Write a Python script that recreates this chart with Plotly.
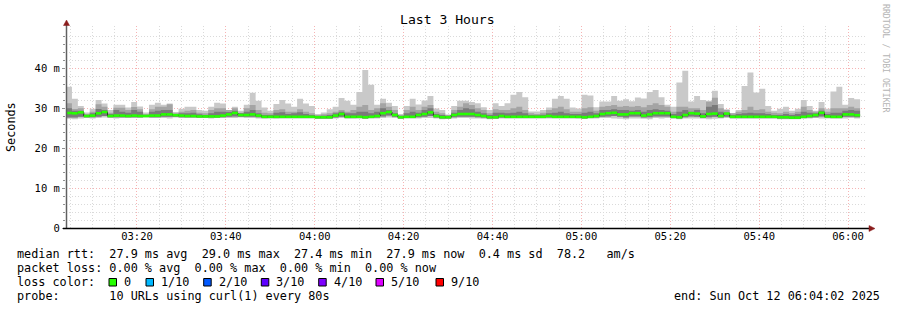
import plotly.graph_objects as go
import pandas as pd

# ---------------- data ----------------
start_time = "2025-10-12 03:04:02"
step_seconds = 80
window_hours = 3

rtt_max = [
    35.3, 32.3, 30.5, 28.9, 29.8, 32.0, 31.1, 29.5, 30.8, 30.8,
    30.1, 31.5, 30.4, 28.9, 30.8, 31.3, 30.8, 31.1, 29.0, 29.8,
    30.3, 30.3, 29.5, 29.3, 30.3, 31.3, 31.1, 29.5, 30.3, 29.3,
    30.8, 33.8, 31.8, 30.1, 29.3, 31.0, 32.0, 31.1, 30.3, 32.3,
    31.1, 30.5, 28.5, 28.9, 29.7, 30.3, 32.5, 31.8, 30.8, 34.0,
    39.5, 35.8, 30.8, 32.3, 31.3, 30.5, 28.5, 30.5, 32.3, 30.9,
    31.9, 33.0, 29.9, 29.5, 28.4, 30.5, 31.8, 31.8, 31.5, 31.2,
    30.2, 29.5, 31.2, 30.5, 31.2, 33.3, 34.0, 32.7, 29.1, 29.1,
    29.5, 30.1, 32.3, 33.0, 32.3, 30.1, 29.9, 33.3, 33.1, 30.2,
    31.6, 31.6, 33.0, 31.8, 32.2, 31.7, 32.6, 32.4, 34.0, 34.5,
    32.7, 30.8, 30.3, 36.4, 39.3, 31.6, 33.0, 32.0, 31.8, 34.3,
    31.0, 29.7, 28.7, 29.5, 35.5, 38.9, 33.9, 34.8, 30.5, 29.3,
    29.8, 30.3, 29.3, 29.8, 32.0, 30.5, 29.3, 31.5, 29.8, 34.1,
    35.3, 30.8, 32.5, 32.2,
]

rtt_p90 = [
    31.17, 29.75, 29.92, 28.50, 29.08, 30.92, 30.33, 28.83, 30.08, 30.08,
    29.50, 30.25, 29.67, 28.50, 29.67, 30.33, 30.33, 30.92, 28.67, 29.08,
    29.33, 29.50, 28.83, 28.67, 29.50, 29.92, 29.92, 29.50, 29.92, 28.83,
    29.92, 30.75, 29.50, 28.83, 28.67, 29.50, 29.67, 29.08, 29.08, 29.67,
    29.08, 28.67, 28.25, 28.42, 28.67, 29.08, 29.50, 29.08, 29.50, 30.33,
    30.75, 29.50, 29.92, 31.17, 30.33, 29.50, 28.25, 29.50, 30.33, 29.50,
    30.33, 30.75, 29.08, 28.67, 28.25, 29.50, 30.33, 31.17, 30.75, 29.92,
    29.50, 28.67, 29.67, 29.50, 29.50, 29.92, 30.33, 29.50, 28.67, 28.50,
    28.83, 29.50, 29.92, 30.33, 29.67, 29.08, 29.08, 29.92, 30.17, 29.33,
    30.33, 30.50, 30.75, 30.33, 30.50, 30.33, 30.50, 30.17, 30.75, 31.17,
    30.75, 30.33, 29.08, 30.33, 30.33, 29.92, 29.92, 29.50, 31.58, 32.58,
    29.92, 29.50, 28.67, 29.08, 29.50, 30.33, 29.50, 29.67, 29.08, 28.83,
    28.67, 29.08, 28.67, 29.08, 30.33, 29.50, 29.08, 29.92, 29.08, 29.92,
    29.92, 29.92, 30.33, 29.92,
]

rtt_p75 = [
    29.92, 29.33, 29.33, 28.25, 28.67, 29.75, 29.50, 28.50, 29.50, 29.08,
    28.83, 29.50, 29.08, 28.25, 29.08, 29.33, 29.50, 29.50, 28.42, 28.67,
    28.67, 28.83, 28.42, 28.25, 28.67, 29.08, 29.08, 29.00, 29.33, 28.67,
    29.08, 29.50, 28.67, 28.25, 28.25, 28.83, 28.92, 28.50, 28.67, 28.92,
    28.50, 28.25, 28.00, 28.08, 28.25, 28.67, 29.08, 28.67, 28.67, 29.08,
    29.08, 28.67, 29.08, 29.92, 29.50, 28.67, 28.00, 28.67, 29.08, 28.83,
    29.50, 29.92, 28.50, 28.25, 28.00, 28.83, 29.50, 29.92, 29.67, 29.08,
    28.67, 28.25, 28.83, 28.83, 28.67, 28.83, 29.08, 28.67, 28.25, 28.17,
    28.33, 28.67, 28.83, 29.08, 28.67, 28.50, 28.50, 28.83, 29.08, 28.67,
    29.50, 29.50, 29.67, 29.50, 29.50, 29.33, 29.50, 29.08, 29.50, 29.67,
    29.50, 29.33, 28.50, 29.08, 29.50, 29.08, 29.50, 28.67, 30.33, 30.75,
    29.08, 28.83, 28.25, 28.50, 28.67, 28.83, 28.67, 28.67, 28.50, 28.25,
    28.25, 28.50, 28.25, 28.50, 29.08, 28.83, 28.67, 29.33, 28.50, 28.83,
    28.83, 29.33, 29.50, 29.33,
]

rtt_median = [
    28.75, 28.67, 28.90, 28.00, 28.10, 28.67, 29.00, 28.00, 28.10, 28.10,
    28.00, 28.10, 28.00, 28.00, 28.10, 28.10, 28.40, 28.40, 28.20, 28.10,
    28.00, 28.00, 27.90, 27.90, 27.90, 27.90, 28.10, 28.40, 28.75, 28.25,
    28.25, 28.40, 28.10, 27.80, 27.80, 27.80, 27.80, 27.80, 27.80, 27.80,
    27.80, 27.80, 27.70, 27.70, 27.70, 28.10, 28.50, 27.80, 27.80, 27.80,
    27.70, 27.80, 28.00, 28.70, 29.00, 28.25, 27.70, 27.80, 27.80, 28.25,
    28.50, 28.90, 28.00, 27.70, 27.70, 28.25, 28.50, 28.50, 28.50, 28.25,
    28.00, 27.70, 27.70, 28.00, 27.80, 27.80, 27.80, 27.80, 27.80, 27.80,
    27.80, 28.00, 27.80, 27.80, 27.80, 27.80, 27.80, 27.70, 27.80, 28.00,
    28.50, 28.70, 28.80, 28.40, 28.40, 28.70, 28.70, 28.10, 28.40, 28.70,
    28.70, 28.70, 27.80, 27.70, 28.25, 28.70, 28.60, 27.90, 28.50, 28.60,
    28.00, 28.60, 27.80, 27.80, 27.80, 27.80, 27.80, 27.80, 27.80, 27.80,
    27.70, 27.70, 27.60, 27.60, 27.80, 28.00, 28.25, 28.80, 27.90, 27.80,
    27.80, 28.40, 28.40, 28.20,
]

rtt_low = [
    27.6, 27.6, 27.8, 27.7, 27.7, 27.8, 28.0, 27.7, 27.7, 27.7,
    27.7, 27.7, 27.7, 27.8, 27.7, 27.7, 27.8, 27.8, 27.8, 27.7,
    27.7, 27.7, 27.6, 27.6, 27.6, 27.6, 27.7, 27.8, 27.9, 27.8,
    27.8, 27.8, 27.7, 27.5, 27.5, 27.5, 27.5, 27.5, 27.5, 27.5,
    27.5, 27.5, 27.4, 27.4, 27.4, 27.6, 27.8, 27.5, 27.5, 27.5,
    27.4, 27.5, 27.6, 27.9, 28.1, 27.8, 27.4, 27.5, 27.5, 27.7,
    27.8, 28.0, 27.6, 27.4, 27.4, 27.7, 27.8, 27.8, 27.8, 27.7,
    27.6, 27.4, 27.4, 27.6, 27.5, 27.5, 27.5, 27.5, 27.5, 27.5,
    27.5, 27.6, 27.5, 27.5, 27.5, 27.5, 27.5, 27.4, 27.5, 27.6,
    27.8, 27.9, 28.0, 27.8, 27.6, 27.9, 27.9, 27.6, 27.7, 27.9,
    27.9, 27.9, 27.5, 27.4, 27.7, 27.9, 27.8, 27.5, 27.7, 27.8,
    27.6, 27.8, 27.5, 27.5, 27.5, 27.5, 27.5, 27.5, 27.5, 27.5,
    27.4, 27.4, 27.3, 27.3, 27.5, 27.6, 27.7, 27.9, 27.6, 27.5,
    27.5, 27.8, 27.8, 27.7,
]

rtt_min = [
    27.3, 27.2, 27.4, 27.5, 27.4, 27.5, 27.6, 27.5, 27.4, 27.5,
    27.5, 27.5, 27.5, 27.6, 27.5, 27.5, 27.5, 27.4, 27.6, 27.5,
    27.5, 27.5, 27.5, 27.5, 27.4, 27.5, 27.5, 27.5, 27.5, 27.6,
    27.5, 27.5, 27.4, 27.3, 27.4, 27.3, 27.4, 27.4, 27.4, 27.4,
    27.4, 27.4, 27.3, 27.3, 27.3, 27.4, 27.5, 27.3, 27.3, 27.4,
    27.3, 27.4, 27.4, 27.5, 27.6, 27.5, 27.3, 27.4, 27.4, 27.4,
    27.5, 27.5, 27.4, 27.2, 27.3, 27.4, 27.5, 27.5, 27.4, 27.4,
    27.3, 27.2, 27.3, 27.4, 27.4, 27.4, 27.4, 27.4, 27.4, 27.4,
    27.4, 27.4, 27.4, 27.4, 27.4, 27.4, 27.3, 27.3, 27.4, 27.4,
    27.5, 27.5, 27.4, 27.3, 27.2, 27.4, 27.4, 27.3, 27.2, 27.5,
    27.4, 27.5, 27.3, 27.2, 27.4, 27.4, 27.4, 27.3, 27.2, 27.3,
    27.4, 27.5, 27.3, 27.3, 27.3, 27.3, 27.3, 27.3, 27.3, 27.3,
    27.2, 27.2, 27.2, 27.2, 27.3, 27.4, 27.5, 27.4, 27.4, 27.3,
    27.3, 27.4, 27.5, 27.4,
]

y_tick_values = [0, 10, 20, 30, 40]
y_tick_labels = ["0", "10 m", "20 m", "30 m", "40 m"]

title_text = "Last 3 Hours"
y_title = "Seconds"
stats_line = "median rtt:  27.9 ms avg  29.0 ms max  27.4 ms min  27.9 ms now  0.4 ms sd  78.2   am/s"
loss_line = "packet loss: 0.00 % avg  0.00 % max  0.00 % min  0.00 % now"
loss_color_label = "loss color:"
loss_labels = ["0", "1/10", "2/10", "3/10", "4/10", "5/10", "9/10"]
loss_colors = ["#26ff00", "#00b8ff", "#0059ff", "#5e00ff", "#7e00ff", "#dd00ff", "#ff0000"]
probe_line = "probe:       10 URLs using curl(1) every 80s"
end_line = "end: Sun Oct 12 06:04:02 2025"
watermark = "RRDTOOL / TOBI OETIKER"

# ---------------- geometry (pixels) ----------------
W, H = 897, 310
PL, PR, PT, PB = 66, 866, 26, 228   # plot area edges
Y_MAX = 50.5

def px(x):
    return (x - PL) / (PR - PL)

def py(y):
    return (PB - y) / (PB - PT)

MONO = "DejaVu Sans Mono"

n = len(rtt_max)
edges = pd.date_range(start_time, periods=n + 1, freq=f"{step_seconds}s")
t0 = pd.Timestamp(start_time)
t1 = t0 + pd.Timedelta(hours=window_hours)


def stepped(vals):
    return list(vals) + [vals[-1]]


fig = go.Figure()


def band(lo, hi, color):
    fig.add_trace(go.Scatter(x=edges, y=stepped(lo), mode="lines",
                             line=dict(width=0, shape="hv"),
                             hoverinfo="skip", showlegend=False))
    fig.add_trace(go.Scatter(x=edges, y=stepped(hi), mode="lines",
                             line=dict(width=0, shape="hv"),
                             fill="tonexty", fillcolor=color,
                             hoverinfo="skip", showlegend=False))


band(rtt_min, rtt_max, "#c9c9c9")
band(rtt_low, rtt_p90, "#a4a4a4")
band(rtt_low, rtt_p75, "#7a7a7a")

# thin dark median line (gives the vertical connectors)
fig.add_trace(go.Scatter(x=edges, y=stepped(rtt_median), mode="lines",
                         line=dict(width=1, shape="hv", color="#202020"),
                         hoverinfo="skip", showlegend=False))

# loss-coloured median segments (all 0 loss -> green)
gx, gy = [], []
for i, v in enumerate(rtt_median):
    gx += [edges[i], edges[i + 1], None]
    gy += [v, v, None]
fig.add_trace(go.Scatter(x=gx, y=gy, mode="lines",
                         line=dict(width=2.6, color=loss_colors[0]),
                         hoverinfo="skip", showlegend=False))

MAJOR_GRID = "#f6b4b4"
MINOR_GRID = "#dadada"
DASH = "1px,2px"

fig.update_layout(
    width=W, height=H,
    margin=dict(l=PL, r=W - PR, t=PT, b=H - PB, pad=0),
    paper_bgcolor="#ffffff", plot_bgcolor="#ffffff",
    showlegend=False, hovermode=False,
    font=dict(family=MONO, color="#000000"),
    xaxis=dict(
        type="date", range=[t0, t1],
        tick0="2025-10-12 03:00:00", dtick=20 * 60 * 1000,
        tickformat="%H:%M",
        showgrid=True, gridcolor=MAJOR_GRID, griddash=DASH, gridwidth=1,
        minor=dict(dtick=5 * 60 * 1000, tick0="2025-10-12 03:00:00",
                   showgrid=True, gridcolor=MINOR_GRID, griddash=DASH,
                   gridwidth=1),
        showline=False, zeroline=False, ticks="",
        tickfont=dict(family=MONO, size=10.5, color="#000000"),
    ),
    yaxis=dict(
        range=[0, Y_MAX],
        tickmode="array", tickvals=y_tick_values, ticktext=y_tick_labels,
        showgrid=True, gridcolor=MAJOR_GRID, griddash=DASH, gridwidth=1,
        minor=dict(tickmode="array",
                   tickvals=[v for v in range(2, 50, 2) if v % 10],
                   showgrid=True, gridcolor=MINOR_GRID, griddash=DASH,
                   gridwidth=1, ticks="outside", ticklen=2,
                   tickcolor="#909090"),
        ticks="outside", ticklen=3, tickcolor="#909090",
        showline=False, zeroline=False,
        tickfont=dict(family=MONO, size=10.5, color="#000000"),
    ),
)

ARROW = "#8a1c1c"
shapes = [
    # y axis line
    dict(type="line", xref="paper", yref="paper",
         x0=px(66.5), x1=px(66.5), y0=py(228), y1=py(24),
         line=dict(color="#606060", width=1.5), layer="above"),
    # x axis line
    dict(type="line", xref="paper", yref="paper",
         x0=px(63), x1=px(870), y0=py(228.5), y1=py(228.5),
         line=dict(color="#000000", width=1.5), layer="above"),
    # arrows
    dict(type="path", xref="paper", yref="paper",
         path=f"M {px(63.5)},{py(25.5)} L {px(66.5)},{py(20)} L {px(69.5)},{py(25.5)} Z",
         fillcolor=ARROW, line=dict(color=ARROW, width=0.5), layer="above"),
    dict(type="path", xref="paper", yref="paper",
         path=f"M {px(869)},{py(225.5)} L {px(875)},{py(228.5)} L {px(869)},{py(231.5)} Z",
         fillcolor=ARROW, line=dict(color=ARROW, width=0.5), layer="above"),
]

annotations = []


def text(x, y, s, size=11.8, anchor="left", color="#000000", angle=0,
         family=MONO):
    annotations.append(dict(
        xref="paper", yref="paper", x=px(x), y=py(y),
        text=s.replace(" ", "\u00a0"), showarrow=False,
        xanchor=anchor, yanchor="middle", textangle=angle,
        borderpad=0, font=dict(family=family, size=size, color=color)))


text(447.5, 19.5, title_text, size=13.1, anchor="center")
text(11, 127, y_title, size=11.8, anchor="center", angle=-90)
text(886, 59, watermark, size=8.2, anchor="center", color="#b4b4b4", angle=90)

text(16, 254.3, stats_line)
text(16, 268.3, loss_line)
text(16, 282.3, loss_color_label)
label_x = [123, 160, 217.7, 275.3, 332.7, 390, 450]
for lx, lab, col in zip(label_x, loss_labels, loss_colors):
    text(lx, 282.3, lab)
    shapes.append(dict(type="rect", xref="paper", yref="paper",
                       x0=px(lx - 14), x1=px(lx - 6.5),
                       y0=py(286), y1=py(278.5),
                       fillcolor=col, line=dict(color="#000000", width=1),
                       layer="above"))
text(16, 296.3, probe_line)
text(881, 296.3, end_line, anchor="right")

fig.update_layout(shapes=shapes, annotations=annotations)

fig.write_html("out.html")
